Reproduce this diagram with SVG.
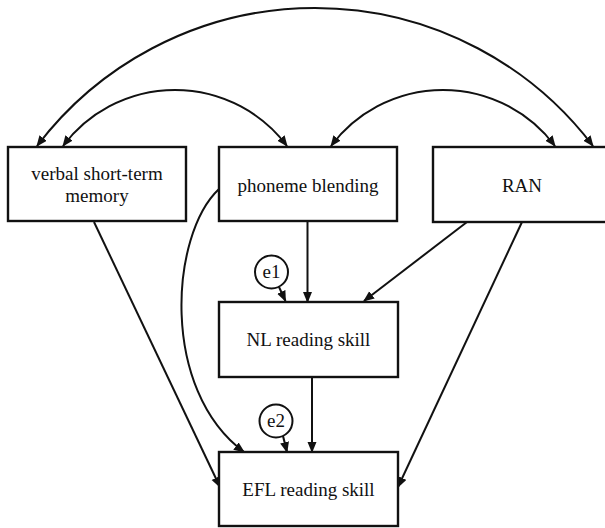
<svg xmlns="http://www.w3.org/2000/svg" width="605" height="528" viewBox="0 0 605 528">
<style>
.box{fill:#fff;stroke:#111;stroke-width:2.4}
.lat{fill:#fff;stroke:#111;stroke-width:2}
.edge{fill:none;stroke:#111;stroke-width:2;marker-end:url(#ah)}
.cov{fill:none;stroke:#111;stroke-width:2;marker-start:url(#ah);marker-end:url(#ah)}
</style>
<defs>
<marker id="ah" markerUnits="userSpaceOnUse" markerWidth="12" markerHeight="10" refX="10" refY="4.5" orient="auto-start-reverse">
<path d="M0,0 L11,4.5 L0,9 z" fill="#111"/>
</marker>
</defs>
<rect width="605" height="528" fill="#fff"/>
<g id="connectors">
<path class="cov" d="M37,146 A349,349 0 0 1 593,146"/>
<path class="cov" d="M63,146 A140,140 0 0 1 287,146"/>
<path class="cov" d="M331,146 A140,140 0 0 1 555,146"/>
<path class="edge" d="M307.5,221 L307.5,302"/>
<path class="edge" d="M312,377 L312,452"/>
<path class="edge" d="M467,222 L364,301"/>
<path class="edge" d="M522,222 L398,487"/>
<path class="edge" d="M94,222 L220,487"/>
<path class="edge" d="M219,189 C170,235 160,390 244,452"/>
<path class="edge" d="M279,287 L285.5,301"/>
<path class="edge" d="M283,436 L287,452"/>
</g>
<g font-family="'Liberation Serif', 'Times New Roman', 'DejaVu Serif', serif" font-size="19" fill="#111" text-anchor="middle">
<g id="vstm">
<rect class="box" x="8" y="147" width="178" height="74"/>
<text x="97" y="180">verbal short-term</text>
<text x="97" y="202">memory</text>
</g>
<g id="pb">
<rect class="box" x="219" y="147" width="178" height="74"/>
<text x="308" y="192">phoneme blending</text>
</g>
<g id="ran">
<rect class="box" x="433" y="147" width="178" height="75"/>
<text x="522" y="192">RAN</text>
</g>
<g id="nl">
<rect class="box" x="219" y="302" width="179" height="75"/>
<text x="308.5" y="346">NL reading skill</text>
</g>
<g id="efl">
<rect class="box" x="219" y="452" width="179" height="74"/>
<text x="308.5" y="496">EFL reading skill</text>
</g>
<g id="e1">
<circle class="lat" cx="271.5" cy="272" r="16.5"/>
<text x="271.5" y="278">e1</text>
</g>
<g id="e2">
<circle class="lat" cx="276" cy="421" r="16.5"/>
<text x="276" y="427">e2</text>
</g>
</g>
</svg>
